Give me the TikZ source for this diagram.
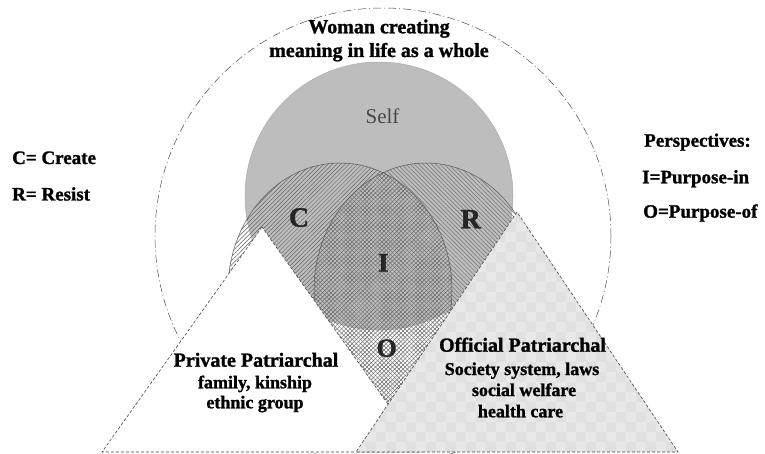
\documentclass[tikz,border=0pt]{standalone}
\usepackage{fontspec}
\setmainfont{Liberation Serif}[BoldFeatures={FakeBold=1.3}]
\usetikzlibrary{patterns.meta}
\begin{document}
\begin{tikzpicture}[x=1pt,y=-1pt,
  outline/.style={draw=gray!70!black, line width=0.5pt},
  hatchC/.style={pattern={Lines[angle=45,distance=3pt,line width=0.5pt]}, pattern color=black!62},
  hatchR/.style={pattern={Lines[angle=-45,distance=3pt,line width=0.5pt]}, pattern color=black!55},
  tri/.style={draw=gray!55!black, line width=0.6pt, densely dashed},
  wholec/.style={draw=gray!60!black, line width=0.5pt, dash pattern=on 8pt off 3pt on 1pt off 3pt},
  txt/.style={inner sep=0pt, anchor=base, text=black},
  head/.style={txt, font=\bfseries\fontsize{20}{24}\selectfont},
  sub/.style={txt, font=\bfseries\fontsize{18}{22}\selectfont},
  leg/.style={inner sep=0pt, anchor=base west, text=black, font=\bfseries\fontsize{19}{23}\selectfont},
  letter/.style={txt, font=\bfseries\fontsize{28}{32}\selectfont, text=black!85},
]
\fill[white] (0,0) rectangle (765,454);
\useasboundingbox (0,0) rectangle (765,454);

% centres
\coordinate (W) at (383,236);
\coordinate (S) at (379,196);
\coordinate (Cc) at (340,290);
\coordinate (Rc) at (426,290);
% triangles
\coordinate (LA) at (262,227);
\coordinate (LL) at (102,452);
\coordinate (LR) at (422,452);
\coordinate (RA) at (517,212);
\coordinate (RL) at (356,452);
\coordinate (RR) at (678,452);

% whole life circle
\draw[wholec] (W) circle[radius=228pt];

% Self
\fill[gray!52] (S) circle[radius=134pt];
\draw[outline, draw=gray!65] (S) circle[radius=134pt];

% C and R shapes
\path[hatchC] (Cc) ellipse[x radius=112pt, y radius=127pt];
\path[hatchR] (Rc) ellipse[x radius=112pt, y radius=127pt];
\draw[outline] (Cc) ellipse[x radius=112pt, y radius=127pt];
\draw[outline] (Rc) ellipse[x radius=112pt, y radius=127pt];

% private patriarchal triangle
\fill[white] (LA) -- (LL) -- (LR) -- cycle;
\draw[tri] (LA) -- (LL) -- (LR) -- cycle;

% official patriarchal triangle
\begin{scope}
  \clip (RA) -- (RL) -- (RR) -- cycle;
  \fill[gray!18] (RL) rectangle (678,212);
  \foreach \i in {0,...,32}{
    \foreach \j in {0,...,24}{
      \pgfmathtruncatemacro\parity{mod(\i+\j,2)}
      \ifnum\parity=0
        \fill[gray!24] ({356+10*\i},{212+10*\j}) rectangle +(10,10);
      \fi
    }
  }
\end{scope}
\draw[tri] (RA) -- (RL) -- (RR) -- cycle;

% texts
\node[head] (t1) at (379,33.3) {Woman creating};
\node[head] (t2) at (379,57) {meaning in life as a whole};
\node[txt, font=\fontsize{21}{24}\selectfont, text=black!72] (self) at (382.5,123.3) {Self};

\node[letter] (lC) at (299,226.7) {C};
\node[letter] (lR) at (470.7,228.3) {R};
\node[letter, font=\bfseries\fontsize{27}{30}\selectfont] (lI) at (383.3,271.7) {I};
\node[letter, font=\bfseries\fontsize{26}{30}\selectfont] (lO) at (386.7,356.7) {O};

\node[head] (pp1) at (256,366.7) {Private Patriarchal};
\node[sub] (pp2) at (255,388.3) {family, kinship};
\node[sub] (pp3) at (255,408.3) {ethnic group};

\node[head] (op1) at (522.5,351.7) {Official Patriarchal};
\node[sub] (op2) at (522,375) {Society system, laws};
\node[sub] (op3) at (524,396) {social welfare};
\node[sub] (op4) at (520.5,417.3) {health care};

\node[leg] (k1) at (12,164) {C= Create};
\node[leg] (k2) at (12,200.5) {R= Resist};

\node[leg] (p1) at (644,146.7) {Perspectives:};
\node[leg] (p2) at (642,183.3) {I=Purpose-in};
\node[leg] (p3) at (643,217.7) {O=Purpose-of};
\end{tikzpicture}
\end{document}
